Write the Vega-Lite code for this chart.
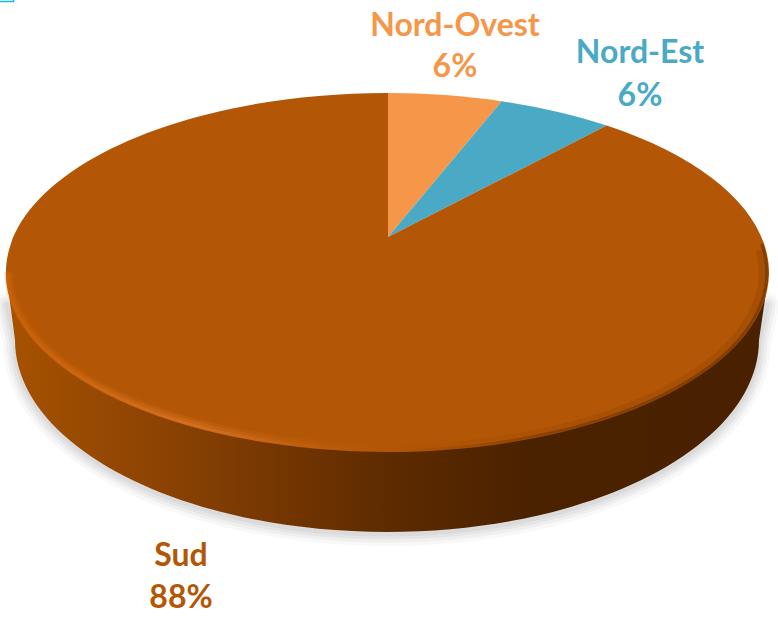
{
"$schema":"https://vega.github.io/schema/vega-lite/v6.json",
"width":778,"height":620,
"autosize":"none",
"padding":0,
"background":"white",
"view":{"stroke":null},
"datasets":{"zones":[
{"zone":"Nord-Ovest","share":0.06,"label":"Nord-Ovest\n6%"},
{"zone":"Nord-Est","share":0.06,"label":"Nord-Est\n6%"},
{"zone":"Sud","share":0.88,"label":"Sud\n88%"}
]},
"data":{"name":"zones"},
"layer":[
{"transform":[{"filter":"datum.zone==='Sud'"}],"mark":{"type":"point","filled":false,"size":4,"opacity":0.025,"stroke":"#000","strokeWidth":24,"strokeCap":"round","shape":"M-382,-5 L-374,32 A372,192 0 0 0 370,32 L378,-5"}},
{"transform":[{"filter":"datum.zone==='Sud'"}],"mark":{"type":"point","filled":false,"size":4,"opacity":0.03,"stroke":"#000","strokeWidth":17,"strokeCap":"round","shape":"M-382,-5 L-374,32 A372,192 0 0 0 370,32 L378,-5"}},
{"transform":[{"filter":"datum.zone==='Sud'"}],"mark":{"type":"point","filled":false,"size":4,"opacity":0.035,"stroke":"#000","strokeWidth":11,"strokeCap":"round","shape":"M-382,-5 L-374,32 A372,192 0 0 0 370,32 L378,-5"}},
{"transform":[{"filter":"datum.zone==='Sud'"}],"mark":{"type":"point","filled":false,"size":4,"opacity":0.04,"stroke":"#000","strokeWidth":5,"strokeCap":"round","shape":"M-382,-5 L-374,32 A372,192 0 0 0 370,32 L378,-5"}},
{"transform":[{"filter":"datum.zone==='Sud'"}],"mark":{"type":"point","filled":true,"size":4,"opacity":1,"strokeWidth":0,
"fill":{"gradient":"linear","x1":0,"y1":0,"x2":1,"y2":0,"stops":[{"offset":0,"color":"#a85200"},{"offset":0.08,"color":"#9c4c02"},{"offset":0.2,"color":"#8c4303"},{"offset":0.35,"color":"#763702"},{"offset":0.5,"color":"#5e2b00"},{"offset":0.68,"color":"#4b2200"},{"offset":1,"color":"#4a2100"}]},
"shape":"M-383,-38 L-374,30 A372,192 0 0 0 370,30 L380,-38 Z"}},
{"mark":{"type":"point","filled":true,"size":4,"opacity":1,"strokeWidth":0},
"encoding":{
"color":{"field":"zone","type":"nominal","legend":null,"scale":{"domain":["Nord-Ovest","Nord-Est","Sud"],"range":["#F59648","#4AAAC5","#B35605"]}},
"shape":{"field":"zone","type":"nominal","legend":null,"scale":{"domain":["Nord-Ovest","Nord-Est","Sud"],"range":["M-1,-73 L-1,-217 A381.5,179.5 0 0 1 112.7,-208.8 Z","M-1,-73 L112.7,-208.8 A381.5,179.5 0 0 1 217.7,-184.4 Z","M-1,-73 L217.7,-184.4 A381.5,179.5 0 1 1 -1,-217 Z"]}}
}},
{"transform":[{"filter":"datum.zone==='Sud'"}],"mark":{"type":"point","filled":false,"size":4,"opacity":1,"strokeWidth":9,"strokeCap":"butt",
"stroke":{"gradient":"linear","x1":0,"y1":0,"x2":1,"y2":0,"stops":[{"offset":0,"color":"rgba(208,100,8,0.18)"},{"offset":0.5,"color":"rgba(224,122,42,0.2)"},{"offset":1,"color":"rgba(200,100,20,0)"}]},
"shape":"M-380,-37.5 A377,174.5 0 0 0 -1.5,137"}},
{"transform":[{"filter":"datum.zone==='Sud'"}],"mark":{"type":"point","filled":false,"size":4,"opacity":1,"strokeWidth":6,"strokeCap":"butt",
"stroke":{"gradient":"linear","x1":0,"y1":0,"x2":1,"y2":0,"stops":[{"offset":0,"color":"rgba(208,100,8,0.35)"},{"offset":0.5,"color":"rgba(224,122,42,0.3)"},{"offset":1,"color":"rgba(200,100,20,0)"}]},
"shape":"M-380.5,-37.5 A378.5,176 0 0 0 -1.5,138.5"}},
{"transform":[{"filter":"datum.zone==='Sud'"}],"mark":{"type":"point","filled":false,"size":4,"opacity":1,"strokeWidth":3,"strokeCap":"butt",
"stroke":{"gradient":"linear","x1":0,"y1":0,"x2":1,"y2":0,"stops":[{"offset":0,"color":"rgba(208,100,8,0.5)"},{"offset":0.5,"color":"rgba(224,122,42,0.5)"},{"offset":1,"color":"rgba(200,100,20,0)"}]},
"shape":"M-381.5,-37.5 A380,177.5 0 0 0 -1.5,140"}},
{"transform":[{"filter":"datum.zone==='Sud'"}],"mark":{"type":"point","filled":false,"size":4,"opacity":1,"strokeWidth":7,"strokeCap":"butt",
"stroke":{"gradient":"linear","x1":0,"y1":0,"x2":1,"y2":0,"stops":[{"offset":0,"color":"rgba(74,33,0,0)"},{"offset":0.5,"color":"rgba(74,33,0,0.1)"},{"offset":1,"color":"rgba(74,33,0,0.12)"}]},
"shape":"M-1.5,138 A378,175.5 0 0 0 370,-60"}},
{"transform":[{"filter":"datum.zone==='Sud'"}],"mark":{"type":"point","filled":false,"size":4,"opacity":1,"strokeWidth":3,"strokeCap":"round",
"stroke":{"gradient":"linear","x1":0,"y1":0,"x2":1,"y2":0,"stops":[{"offset":0,"color":"rgba(74,33,0,0)"},{"offset":0.45,"color":"rgba(74,33,0,0.35)"},{"offset":1,"color":"rgba(74,33,0,0.45)"}]},
"shape":"M-1.5,140.5 A380,177.5 0 0 0 373,-65"}},
{"transform":[{"filter":"datum.zone==='Sud'"}],"mark":{"type":"point","filled":false,"size":4,"opacity":1,"strokeWidth":1.5,"stroke":"#19b5f0","shape":"M-389,-308.5 H-375.5 V-310"}},
{"transform":[{"filter":"datum.zone==='Nord-Ovest'"}],"mark":{"type":"text","font":"Lato","fontWeight":"bold","fontSize":32,"lineBreak":"\n","lineHeight":41,"align":"center","baseline":"middle","dx":66,"dy":-284,"fill":"#F59648"},"encoding":{"text":{"field":"label"}}},
{"transform":[{"filter":"datum.zone==='Nord-Est'"}],"mark":{"type":"text","font":"Lato","fontWeight":"bold","fontSize":32,"lineBreak":"\n","lineHeight":43,"align":"center","baseline":"middle","dx":251,"dy":-257,"fill":"#4AAAC5"},"encoding":{"text":{"field":"label"}}},
{"transform":[{"filter":"datum.zone==='Sud'"}],"mark":{"type":"text","font":"Lato","fontWeight":"bold","fontSize":32,"lineBreak":"\n","lineHeight":42,"align":"center","baseline":"middle","dx":-208,"dy":246,"fill":"#B35605"},"encoding":{"text":{"field":"label"}}}
]
}
